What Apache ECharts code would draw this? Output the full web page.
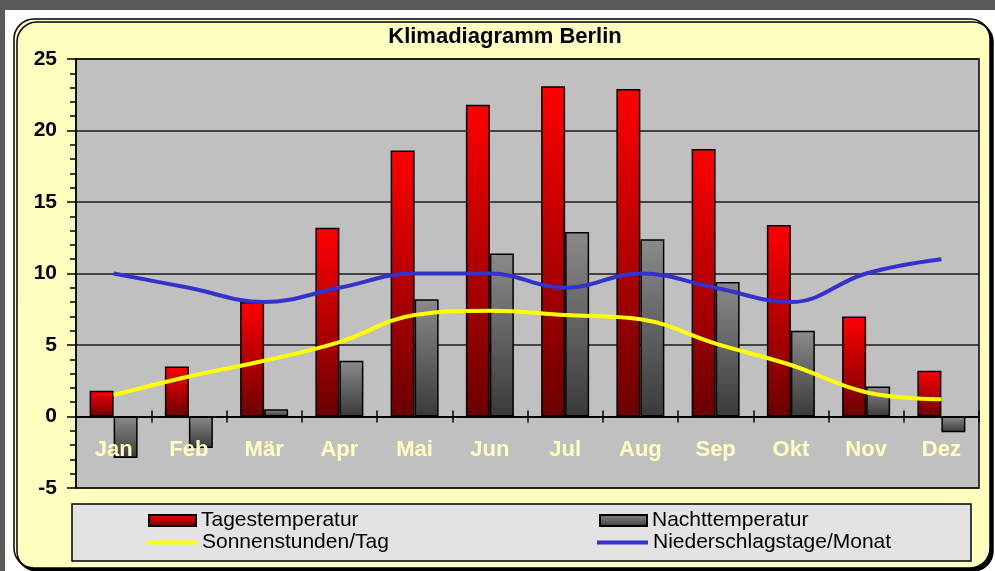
<!DOCTYPE html>
<html>
<head>
<meta charset="utf-8">
<script src="https://cdn.jsdelivr.net/npm/echarts@6/dist/echarts.min.js"></script>
<style>
  html, body { margin: 0; padding: 0; background: #fff; }
  #chart { width: 995px; height: 571px; }
</style>
</head>
<body>
<div id="chart"></div>
<script>
// Klimadiagramm Berlin
const months = ['Jan', 'Feb', 'Mär', 'Apr', 'Mai', 'Jun', 'Jul', 'Aug', 'Sep', 'Okt', 'Nov', 'Dez']
const tagesTemp = [1.8, 3.5, 8.0, 13.2, 18.6, 21.8, 23.1, 22.9, 18.7, 13.4, 7.0, 3.2]
const nachtTemp = [-2.9, -2.2, 0.5, 3.9, 8.2, 11.4, 12.9, 12.4, 9.4, 6.0, 2.1, -1.1]
const sonnenStunden = [1.5, 2.8, 3.9, 5.2, 7.1, 7.4, 7.1, 6.8, 5.1, 3.6, 1.7, 1.2]
const regenTage = [10, 9, 8, 9, 10, 10, 9, 10, 9, 8, 10, 11]

const font = 'Liberation Sans'

const chart = echarts.init(document.getElementById('chart'))

const redGrad = new echarts.graphic.LinearGradient(0, 0, 0, 1, [
  { offset: 0, color: '#ff0000' },
  { offset: 1, color: '#6a0000' }
])
const grayGrad = new echarts.graphic.LinearGradient(0, 0, 0, 1, [
  { offset: 0, color: '#8a8a8a' },
  { offset: 1, color: '#3a3a3a' }
])

function legendAt(name, left, top, opts) {
  return Object.assign({
    data: [name],
    left: left,
    top: top,
    orient: 'horizontal',
    selectedMode: false,
    itemGap: 0,
    textStyle: { fontFamily: font, fontSize: 21, color: '#000', padding: [0, 0, 0, 0] },
    padding: 0
  }, opts)
}

chart.setOption({
  animation: false,
  graphic: [
    { type: 'rect', z: -20, shape: { x: 0, y: 0, width: 995, height: 10 }, style: { fill: '#5a5a5a' } },
    { type: 'rect', z: -20, shape: { x: 0, y: 0, width: 5, height: 571 }, style: { fill: '#5a5a5a' } },
    {
      type: 'rect', z: -15,
      shape: { x: 14, y: 19, width: 976, height: 549, r: 20 },
      style: { fill: '#ffffc0', stroke: '#000', lineWidth: 1.5, shadowColor: '#000', shadowOffsetX: 3, shadowOffsetY: 3, shadowBlur: 0 }
    },
    {
      type: 'rect', z: -10,
      shape: { x: 72, y: 504, width: 899, height: 57 },
      style: { fill: '#e3e3e3', stroke: '#000', lineWidth: 1.5 }
    },
    {
      type: 'text', x: 505, y: 37,
      style: { text: 'Klimadiagramm Berlin', font: 'bold 22px "Liberation Sans"', fill: '#000', align: 'center', verticalAlign: 'middle' }
    }
  ],
  legend: [
    legendAt('Tagestemperatur', 148, 510, { itemWidth: 47, itemHeight: 11, icon: 'rect' }),
    legendAt('Sonnenstunden/Tag', 147, 532, { itemWidth: 50, itemHeight: 4, icon: 'rect' }),
    legendAt('Nachttemperatur', 599, 510, { itemWidth: 47, itemHeight: 11, icon: 'rect' }),
    legendAt('Niederschlagstage/Monat', 597, 532, { itemWidth: 51, itemHeight: 4, icon: 'rect' })
  ],
  grid: {
    left: 76,
    top: 59,
    right: 16,
    bottom: 83,
    show: true,
    backgroundColor: '#c0c0c0',
    borderColor: '#000',
    borderWidth: 1.5
  },
  xAxis: [
    {
      type: 'category',
      data: months,
      position: 'bottom',
      z: 10,
      axisLine: { onZero: true, onZeroAxisIndex: 0, lineStyle: { color: '#000', width: 1.5 } },
      axisTick: { show: true, interval: 0, length: 6, lineStyle: { color: '#000', width: 1.5 } },
      axisLabel: {
        interval: 0,
        margin: -49,
        color: '#ffffc0',
        fontFamily: font,
        fontWeight: 'bold',
        fontSize: 22
      },
      splitLine: { show: false }
    },
    {
      type: 'category',
      data: months,
      position: 'top',
      axisLine: { onZero: true, onZeroAxisIndex: 0, lineStyle: { color: '#000', width: 1.5 } },
      axisTick: { show: true, interval: 0, length: 6, lineStyle: { color: '#000', width: 1.5 } },
      axisLabel: { show: false },
      splitLine: { show: false }
    }
  ],
  yAxis: {
    type: 'value',
    min: -5,
    max: 25,
    interval: 5,
    axisLine: { show: true, lineStyle: { color: '#000', width: 1.5 } },
    axisTick: { show: true, length: 9, lineStyle: { color: '#000', width: 1.5 } },
    minorTick: { show: true, splitNumber: 5, length: 6, lineStyle: { color: '#000', width: 1.5 } },
    axisLabel: { margin: 19, color: '#000', fontFamily: font, fontWeight: 'bold', fontSize: 21 },
    splitLine: { show: true, lineStyle: { color: '#1a1a1a', width: 1.5 } }
  },
  series: [
    {
      name: 'Tagestemperatur',
      type: 'bar',
      barWidth: 24,
      barGap: '0%',
      data: tagesTemp,
      itemStyle: { color: redGrad, borderColor: '#000', borderWidth: 1.5 }
    },
    {
      name: 'Nachttemperatur',
      type: 'bar',
      barWidth: 24,
      barGap: '0%',
      data: nachtTemp,
      itemStyle: { color: grayGrad, borderColor: '#000', borderWidth: 1.5 }
    },
    {
      name: 'Sonnenstunden/Tag',
      type: 'line',
      smooth: 0.4,
      symbol: 'none',
      data: sonnenStunden,
      itemStyle: { color: '#ffff00' },
      lineStyle: { color: '#ffff00', width: 4 }
    },
    {
      name: 'Niederschlagstage/Monat',
      type: 'line',
      smooth: 0.4,
      symbol: 'none',
      data: regenTage,
      itemStyle: { color: '#3333cc' },
      lineStyle: { color: '#3333cc', width: 4 }
    }
  ]
})
</script>
</body>
</html>
